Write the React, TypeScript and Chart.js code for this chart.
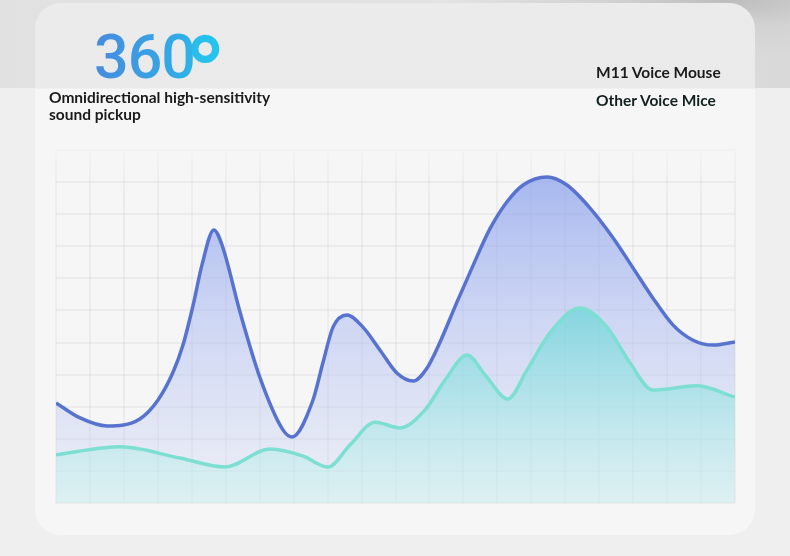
import React, { useEffect, useRef } from "react";
import { Chart, registerables } from "chart.js";

Chart.register(...registerables);

const seriesNames = ["M11 Voice Mouse", "Other Voice Mice"];

const m11X = [0, 0.71, 1.5, 2.47, 3.0, 3.45, 3.74, 4.04, 4.3, 4.65, 4.89, 5.42, 6.01, 6.69, 6.95, 7.57, 7.86, 8.16, 8.57, 9.04, 9.54, 10.04, 10.52, 10.93, 11.31, 11.81, 12.28, 12.78, 13.28, 13.76, 14.46, 15.05, 15.73, 16.41, 17.0, 17.58, 18.17, 18.75, 19.35, 20];
const m11Y = [3.12, 2.65, 2.4, 2.62, 3.2, 4.08, 4.92, 6.17, 7.42, 8.51, 8.04, 5.95, 3.9, 2.27, 2.06, 3.21, 4.36, 5.48, 5.86, 5.48, 4.77, 4.05, 3.8, 4.21, 5.01, 6.26, 7.39, 8.54, 9.38, 9.91, 10.16, 9.91, 9.19, 8.26, 7.32, 6.39, 5.55, 5.08, 4.92, 5.02];

const otherX = [0, 1.89, 3.65, 4.98, 6.3, 7.28, 8.01, 8.66, 9.4, 10.13, 10.87, 11.46, 12.11, 12.64, 13.31, 13.87, 14.55, 15.43, 16.23, 16.91, 17.58, 18.88, 20];
const otherY = [1.5, 1.75, 1.4, 1.12, 1.68, 1.46, 1.12, 1.81, 2.52, 2.34, 2.9, 3.83, 4.61, 3.99, 3.24, 4.14, 5.3, 6.08, 5.48, 4.36, 3.52, 3.65, 3.3];

const xMin = 0;
const xMax = 20;
const yMin = 0;
const yMax = 11;

const headlineNumber = "360";
const headlineUnit = "°";
const subtitleLines = ["Omnidirectional high-sensitivity", "sound pickup"];

function toPoints(xs: number[], ys: number[]) {
  return xs.map((x, i) => ({ x, y: ys[i] }));
}

export default function App() {
  const canvasRef = useRef<HTMLCanvasElement | null>(null);

  useEffect(() => {
    const canvas = canvasRef.current;
    if (!canvas) return;

    const blueFill = (ctx: any) => {
      const area = ctx.chart.chartArea;
      if (!area) return "rgba(170,185,240,0.5)";
      const g = ctx.chart.ctx.createLinearGradient(0, area.top + 20, 0, area.bottom);
      g.addColorStop(0, "rgba(135,158,236,0.72)");
      g.addColorStop(1, "rgba(205,214,246,0.25)");
      return g;
    };
    const greenFill = (ctx: any) => {
      const area = ctx.chart.chartArea;
      if (!area) return "rgba(140,220,225,0.5)";
      const g = ctx.chart.ctx.createLinearGradient(0, area.top + 150, 0, area.bottom);
      g.addColorStop(0, "rgba(110,212,218,0.8)");
      g.addColorStop(1, "rgba(200,244,238,0.4)");
      return g;
    };
    const vGrid = (ctx: any) => {
      const area = ctx.chart.chartArea;
      if (!area) return "rgba(0,0,0,0.04)";
      const g = ctx.chart.ctx.createLinearGradient(0, area.top, 0, area.top + 40);
      g.addColorStop(0, "rgba(0,0,0,0.012)");
      g.addColorStop(1, "rgba(0,0,0,0.04)");
      return g;
    };
    const hGrid = (ctx: any) =>
      ctx.tick && ctx.tick.value === yMax ? "rgba(0,0,0,0.015)" : "rgba(0,0,0,0.04)";

    const chart = new Chart(canvas, {
      type: "line",
      data: {
        datasets: [
          {
            label: seriesNames[0],
            data: toPoints(m11X, m11Y),
            borderColor: "#5773cf",
            borderWidth: 3.5,
            backgroundColor: blueFill,
            fill: "origin",
            pointRadius: 0,
            cubicInterpolationMode: "monotone",
            order: 2,
          },
          {
            label: seriesNames[1],
            data: toPoints(otherX, otherY),
            borderColor: "#7ddfd2",
            borderWidth: 3.5,
            backgroundColor: greenFill,
            fill: "origin",
            pointRadius: 0,
            cubicInterpolationMode: "monotone",
            order: 1,
          },
        ],
      },
      options: {
        animation: false,
        responsive: false,
        maintainAspectRatio: false,
        layout: { padding: { left: 56, right: 55, top: 150, bottom: 53 } },
        plugins: {
          legend: { display: false },
          tooltip: { enabled: false },
          title: { display: false },
        },
        scales: {
          x: {
            type: "linear",
            min: xMin,
            max: xMax,
            ticks: { display: false, stepSize: 1 },
            grid: { color: vGrid, lineWidth: 2, drawTicks: false },
            border: { display: false },
          },
          y: {
            type: "linear",
            min: yMin,
            max: yMax,
            ticks: { display: false, stepSize: 1 },
            grid: { color: hGrid, lineWidth: 2, drawTicks: false },
            border: { display: false },
          },
        },
      },
    });
    return () => chart.destroy();
  }, []);

  const textFont = "Lato, 'Noto Sans', sans-serif";
  const blueGrad = "linear-gradient(90deg, #478bde 0%, #35a6e5 55%, #25c4ec 100%)";

  return (
    <div
      style={{
        position: "fixed",
        left: 0,
        top: 0,
        width: 790,
        height: 556,
        overflow: "hidden",
        background: "#efefef",
      }}
    >
      <div
        style={{
          position: "absolute",
          left: 0,
          top: 0,
          width: 790,
          height: 88,
          background:
            "radial-gradient(ellipse 280px 60px at 730px 0px, #bdbdbd 0%, #d3d3d3 45%, rgba(226,226,226,0) 100%), linear-gradient(90deg, #e1e1e1 0%, #e3e3e3 60%, #d9d9d9 100%)",
        }}
      />
      <div
        style={{
          position: "absolute",
          left: 35,
          top: 3,
          width: 720,
          height: 532,
          borderRadius: 26,
          background:
            "linear-gradient(180deg, #ebebeb 0px, #eaeaea 85px, #f6f6f6 86px, #f6f6f6 100%)",
        }}
      />
      <canvas
        ref={canvasRef}
        width={790}
        height={556}
        style={{ position: "absolute", left: 0, top: 0, width: 790, height: 556 }}
      />
      <div
        style={{
          position: "absolute",
          left: 94,
          top: 27,
          height: 62,
          fontFamily: "Roboto, 'Liberation Sans', Arial, sans-serif",
          fontSize: 61,
          lineHeight: "60px",
          fontWeight: 500,
          whiteSpace: "nowrap",
        }}
      >
        <span
          style={{
            background: blueGrad,
            backgroundSize: "132px 100%",
            WebkitBackgroundClip: "text",
            backgroundClip: "text",
            color: "transparent",
            letterSpacing: -1,
          }}
        >
          {headlineNumber}
        </span>
        <span
          style={{
            position: "relative",
            top: 0,
            fontSize: 61,
            background: "linear-gradient(90deg, #2cb9ea, #22c8ee)",
            WebkitBackgroundClip: "text",
            backgroundClip: "text",
            color: "transparent",
            display: "inline-block",
            transform: "scale(1.8) translate(-6px, -2.5px)",
            transformOrigin: "0 0",
          }}
        >
          {headlineUnit}
        </span>
      </div>
      <div
        style={{
          position: "absolute",
          left: 49,
          top: 89,
          fontFamily: textFont,
          fontSize: 15.5,
          lineHeight: "17px",
          fontWeight: 700,
          color: "#1b1b1b",
          whiteSpace: "nowrap",
        }}
      >
        {subtitleLines.map((l) => (
          <div key={l}>{l}</div>
        ))}
      </div>
      <div
        style={{
          position: "absolute",
          left: 596,
          top: 63,
          fontFamily: textFont,
          fontSize: 15.5,
          lineHeight: "18px",
          fontWeight: 700,
          color: "#1b1b1b",
          whiteSpace: "nowrap",
        }}
      >
        {seriesNames[0]}
      </div>
      <div
        style={{
          position: "absolute",
          left: 596,
          top: 91,
          fontFamily: textFont,
          fontSize: 15.5,
          lineHeight: "18px",
          fontWeight: 700,
          color: "#142020",
          whiteSpace: "nowrap",
        }}
      >
        {seriesNames[1]}
      </div>
    </div>
  );
}
